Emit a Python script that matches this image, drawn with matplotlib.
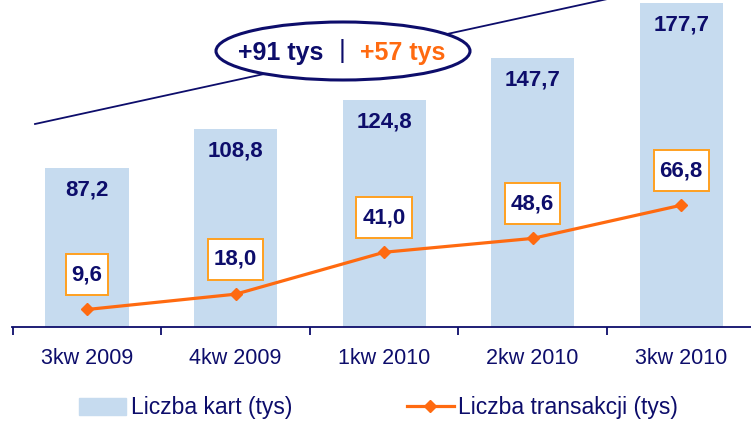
import matplotlib
matplotlib.use("Agg")
import matplotlib.pyplot as plt
from matplotlib.patches import Ellipse
from matplotlib.lines import Line2D
from matplotlib.path import Path

plt.rcParams['font.family'] = ['Liberation Sans', 'DejaVu Sans']

quarters = ['3kw 2009', '4kw 2009', '1kw 2010', '2kw 2010', '3kw 2010']
cards = [87.2, 108.8, 124.8, 147.7, 177.7]
transactions = [9.6, 18.0, 41.0, 48.6, 66.8]
card_labels = ['87,2', '108,8', '124,8', '147,7', '177,7']
trans_labels = ['9,6', '18,0', '41,0', '48,6', '66,8']

NAVY = '#0D0D6B'
ORANGE = '#FF6A10'
BOX_EDGE = '#FFA020'
BAR = '#C6DBEF'


def tall_box(x0, y0, width, height, mutation_size):
    # box with more room above/below the text than at the sides
    px = 0.27 * mutation_size
    py = 0.45 * mutation_size
    x0, y0 = x0 - px, y0 - py
    x1, y1 = x0 + width + 2 * px, y0 + height + 2 * py
    return Path([(x0, y0), (x1, y0), (x1, y1), (x0, y1), (x0, y0)], closed=True)


fig = plt.figure(figsize=(7.51, 4.21), dpi=100)
ax = fig.add_axes([0.016, 0.2233, 0.984, 0.7767])

x = list(range(len(quarters)))
ax.bar(x, cards, width=0.56, color=BAR, zorder=1)
ax.plot(x, transactions, color=ORANGE, lw=2.3, marker='D', markersize=6.5, zorder=3)

for xi, v, lab in zip(x, cards, card_labels):
    ax.annotate(lab, (xi, v), xytext=(0, -16), textcoords='offset points',
                ha='center', va='center', fontsize=16, fontweight='bold', color=NAVY)

for xi, v, lab in zip(x, transactions, trans_labels):
    ax.annotate(lab, (xi, v), xytext=(0, 25), textcoords='offset points',
                ha='center', va='center', fontsize=16, fontweight='bold', color=NAVY,
                bbox=dict(boxstyle=tall_box, fc='white', ec=BOX_EDGE, lw=1.4), zorder=4)

ax.set_xlim(-0.505, 4.47)
ax.set_ylim(0, 179.4)
for side in ['left', 'right', 'top']:
    ax.spines[side].set_visible(False)
ax.spines['bottom'].set_color(NAVY)
ax.spines['bottom'].set_linewidth(1.3)
ax.set_yticks([])
ax.set_xticks(x)
ax.set_xticklabels(quarters, fontsize=15.5, color=NAVY)
ax.set_xticks([i - 0.5 for i in x], minor=True)
ax.tick_params(axis='x', which='major', length=0, pad=15)
ax.tick_params(axis='x', which='minor', length=6, width=1.3, color=NAVY, direction='out')

handles = [plt.Rectangle((0, 0), 1, 1, color=BAR),
           Line2D([], [], color=ORANGE, lw=2.3, marker='D', markersize=6.5)]
fig.legend(handles, ['Liczba kart (tys)', 'Liczba transakcji (tys)'],
           loc='center', bbox_to_anchor=(0.504, 0.031), ncol=2, frameon=False,
           fontsize=16.5, labelcolor=NAVY, handlelength=2.05, handleheight=0.8,
           handletextpad=0.2, columnspacing=5.0)

# trend line and highlighted growth
W, H = 751.0, 421.0
fig.add_artist(Line2D([35 / W, 612 / W], [1 - 124 / H, 1 + 2 / H], color=NAVY, lw=1.3, zorder=5))
fig.add_artist(Ellipse((343 / W, 1 - 51 / H), 254 / W, 58 / H, fc='white', ec=NAVY, lw=2.2, zorder=6))
fig.text(281 / W, 1 - 53 / H, '+91 tys', ha='center', va='center', fontsize=18,
         fontweight='bold', color=NAVY, zorder=7)
fig.text(342 / W, 1 - 51 / H, '|', ha='center', va='center', fontsize=19, color=NAVY, zorder=7)
fig.text(403 / W, 1 - 53 / H, '+57 tys', ha='center', va='center', fontsize=18,
         fontweight='bold', color=ORANGE, zorder=7)

fig.savefig('out.png', dpi=100)
